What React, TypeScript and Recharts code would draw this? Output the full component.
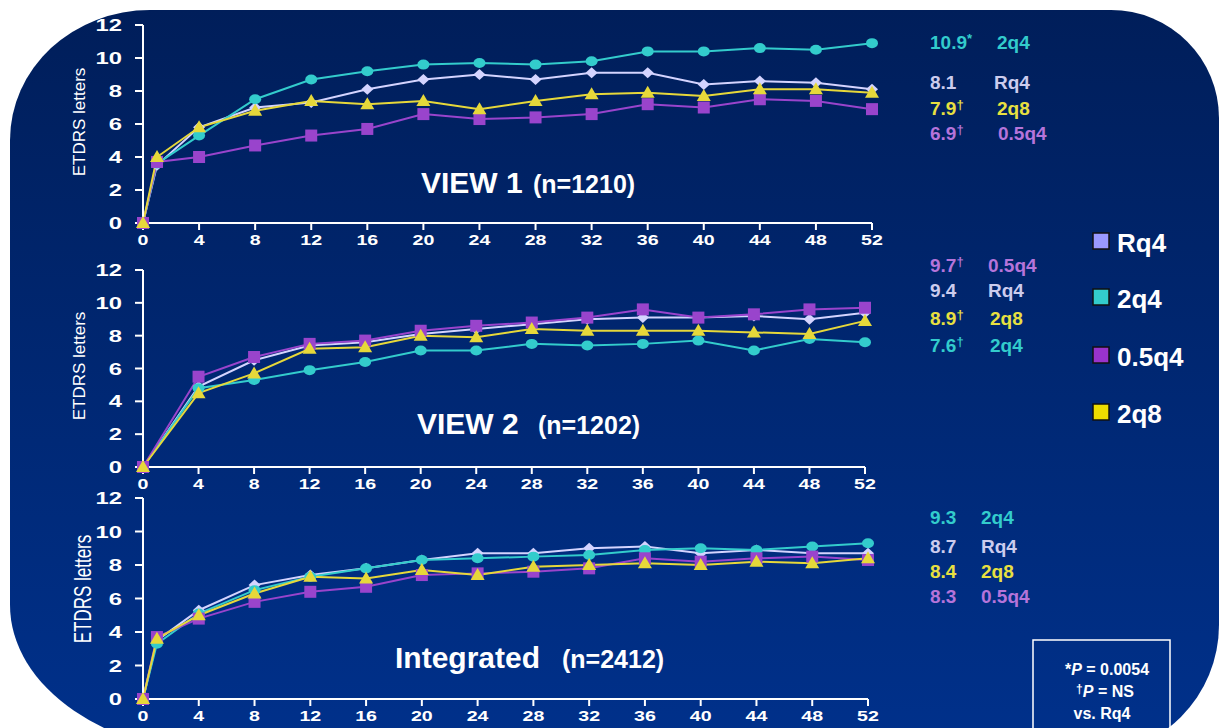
import React from 'react'
import { LineChart, Line, XAxis, YAxis } from 'recharts'

// weeks on the x axis
const WEEKS_A = [0, 1, 4, 8, 12, 16, 20, 24, 28, 32, 36, 40, 44, 48, 52]
const WEEKS_B = [0, 4, 8, 12, 16, 20, 24, 28, 32, 36, 40, 44, 48, 52]
const X_TICKS = [0, 4, 8, 12, 16, 20, 24, 28, 32, 36, 40, 44, 48, 52]
const Y_TICKS = [0, 2, 4, 6, 8, 10, 12]

// VIEW 1 (n=1210)
const V1_RQ4 = [0, 3.5, 5.8, 7.0, 7.3, 8.1, 8.7, 9.0, 8.7, 9.1, 9.1, 8.4, 8.6, 8.5, 8.1]
const V1_2Q4 = [0, 3.6, 5.3, 7.5, 8.7, 9.2, 9.6, 9.7, 9.6, 9.8, 10.4, 10.4, 10.6, 10.5, 10.9]
const V1_05Q4 = [0, 3.7, 4.0, 4.7, 5.3, 5.7, 6.6, 6.3, 6.4, 6.6, 7.2, 7.0, 7.5, 7.4, 6.9]
const V1_2Q8 = [0, 4.0, 5.8, 6.8, 7.4, 7.2, 7.4, 6.9, 7.4, 7.8, 7.9, 7.7, 8.1, 8.1, 7.9]

// VIEW 2 (n=1202)
const V2_RQ4 = [0, 4.9, 6.5, 7.4, 7.6, 8.1, 8.4, 8.7, 9.0, 9.1, 9.1, 9.2, 9.0, 9.4]
const V2_2Q4 = [0, 4.8, 5.3, 5.9, 6.4, 7.1, 7.1, 7.5, 7.4, 7.5, 7.7, 7.1, 7.8, 7.6]
const V2_05Q4 = [0, 5.5, 6.7, 7.5, 7.7, 8.3, 8.6, 8.8, 9.1, 9.6, 9.1, 9.3, 9.6, 9.7]
const V2_2Q8 = [0, 4.5, 5.7, 7.2, 7.3, 8.0, 7.9, 8.4, 8.3, 8.3, 8.3, 8.2, 8.1, 8.9]

// Integrated (n=2412)
const IN_RQ4 = [0, 3.5, 5.3, 6.8, 7.4, 7.8, 8.3, 8.7, 8.7, 9.0, 9.1, 8.7, 8.9, 8.7, 8.7]
const IN_2Q4 = [0, 3.3, 5.1, 6.5, 7.3, 7.8, 8.3, 8.4, 8.5, 8.6, 8.9, 9.0, 8.9, 9.1, 9.3]
const IN_05Q4 = [0, 3.7, 4.8, 5.8, 6.4, 6.7, 7.4, 7.5, 7.6, 7.8, 8.4, 8.2, 8.4, 8.5, 8.3]
const IN_2Q8 = [0, 3.6, 5.0, 6.3, 7.3, 7.2, 7.7, 7.4, 7.9, 8.0, 8.1, 8.0, 8.2, 8.1, 8.4]

const C_RQ4 = '#D4D4FF'
const C_2Q4 = '#33CCCC'
const C_05Q4 = '#9944CC'
const C_2Q8 = '#E6D83A'

const FONT = 'Arial, "Liberation Sans", sans-serif'

const build = (weeks: number[], rq4: number[], q2q4: number[], q05: number[], q2q8: number[]) =>
  weeks.map((w, i) => ({ week: w, rq4: rq4[i], q2q4: q2q4[i], q05: q05[i], q2q8: q2q8[i] }))

const view1 = build(WEEKS_A, V1_RQ4, V1_2Q4, V1_05Q4, V1_2Q8)
const view2 = build(WEEKS_B, V2_RQ4, V2_2Q4, V2_05Q4, V2_2Q8)
const integrated = build(WEEKS_A, IN_RQ4, IN_2Q4, IN_05Q4, IN_2Q8)

const Diamond = (p: any) => (
  <polygon
    key={`d-${p.index}`}
    points={`${p.cx},${p.cy - 5.5} ${p.cx + 6},${p.cy} ${p.cx},${p.cy + 5.5} ${p.cx - 6},${p.cy}`}
    fill={C_RQ4}
  />
)
const Circle = (p: any) => <ellipse key={`c-${p.index}`} cx={p.cx} cy={p.cy} rx={6} ry={5} fill={C_2Q4} />
const Square = (p: any) => <rect key={`s-${p.index}`} x={p.cx - 6} y={p.cy - 6} width={12} height={12} fill={C_05Q4} />
const Triangle = (p: any) => (
  <polygon
    key={`t-${p.index}`}
    points={`${p.cx},${p.cy - 7} ${p.cx + 7},${p.cy + 5} ${p.cx - 7},${p.cy + 5}`}
    fill={C_2Q8}
  />
)

const YTick = ({ x, y, payload }: any) => (
  <text
    transform={`translate(${x},${y}) scale(1.4,1)`}
    textAnchor="end"
    dy="0.36em"
    fill="#fff"
    fontWeight="bold"
    fontSize={17}
    fontFamily={FONT}
  >
    {payload.value}
  </text>
)

const XTick = ({ x, y, payload }: any) => (
  <text
    transform={`translate(${x},${y}) scale(1.4,1)`}
    textAnchor="middle"
    dy="0.71em"
    fill="#fff"
    fontWeight="bold"
    fontSize={14}
    fontFamily={FONT}
  >
    {payload.value}
  </text>
)

interface PanelProps {
  data: any[]
  top: number
  height: number
  margin: { top: number; right: number; bottom: number; left: number }
  xHeight: number
}

function Panel({ data, top, height, margin, xHeight }: PanelProps) {
  return (
    <div style={{ position: 'absolute', left: 0, top }}>
      <LineChart width={900} height={height} data={data} margin={margin}>
        <XAxis
          dataKey="week"
          type="number"
          domain={[0, 52]}
          ticks={X_TICKS}
          height={xHeight}
          interval={0}
          tick={<XTick />}
          tickSize={7}
          tickMargin={5}
          axisLine={{ stroke: '#fff', strokeWidth: 2 }}
          tickLine={{ stroke: '#fff', strokeWidth: 2 }}
        />
        <YAxis
          type="number"
          domain={[0, 12]}
          ticks={Y_TICKS}
          width={60}
          interval={0}
          tick={<YTick />}
          tickSize={8}
          tickMargin={13}
          axisLine={{ stroke: '#fff', strokeWidth: 2 }}
          tickLine={{ stroke: '#fff', strokeWidth: 2 }}
        />
        <Line dataKey="rq4" stroke={C_RQ4} strokeWidth={2} dot={Diamond} activeDot={false} isAnimationActive={false} />
        <Line dataKey="q2q4" stroke={C_2Q4} strokeWidth={2} dot={Circle} activeDot={false} isAnimationActive={false} />
        <Line dataKey="q05" stroke={C_05Q4} strokeWidth={2} dot={Square} activeDot={false} isAnimationActive={false} />
        <Line dataKey="q2q8" stroke={C_2Q8} strokeWidth={2} dot={Triangle} activeDot={false} isAnimationActive={false} />
      </LineChart>
    </div>
  )
}

const T_CYAN = '#33CCCC'
const T_LAV = '#CCCCEE'
const T_YEL = '#E8E040'
const T_PUR = '#B574DA'

// n: value, m: footnote mark, l: group label
const NOTE_ROWS = [
  { n: '10.9', m: '*', l: '2q4', c: T_CYAN, y: 49, lx: 997 },
  { n: '8.1', m: '', l: 'Rq4', c: T_LAV, y: 89, lx: 994 },
  { n: '7.9', m: '†', l: '2q8', c: T_YEL, y: 115, lx: 997 },
  { n: '6.9', m: '†', l: '0.5q4', c: T_PUR, y: 140, lx: 998 },
  { n: '9.7', m: '†', l: '0.5q4', c: T_PUR, y: 272, lx: 988 },
  { n: '9.4', m: '', l: 'Rq4', c: T_LAV, y: 297, lx: 988 },
  { n: '8.9', m: '†', l: '2q8', c: T_YEL, y: 325, lx: 990 },
  { n: '7.6', m: '†', l: '2q4', c: T_CYAN, y: 352, lx: 990 },
  { n: '9.3', m: '', l: '2q4', c: T_CYAN, y: 524, lx: 981 },
  { n: '8.7', m: '', l: 'Rq4', c: T_LAV, y: 553, lx: 981 },
  { n: '8.4', m: '', l: '2q8', c: T_YEL, y: 578, lx: 981 },
  { n: '8.3', m: '', l: '0.5q4', c: T_PUR, y: 603, lx: 981 },
]

const LEGEND = [
  { l: 'Rq4', c: '#9999FF', y: 233 },
  { l: '2q4', c: '#33CCCC', y: 289 },
  { l: '0.5q4', c: '#9933CC', y: 347 },
  { l: '2q8', c: '#EEDD00', y: 404 },
]

export default function App() {
  return (
    <div
      style={{
        position: 'absolute',
        left: 0,
        top: 0,
        width: 1226,
        height: 728,
        overflow: 'hidden',
        background: '#fff',
        fontFamily: FONT,
      }}
    >
      <div
        style={{
          position: 'absolute',
          left: 10,
          top: 10,
          width: 1209,
          height: 745,
          background: 'linear-gradient(#001E5A, #00318C)',
          borderRadius: '140px 108px 130px 220px / 130px 108px 130px 150px',
        }}
      />
      <Panel data={view1} top={0} height={260} margin={{ top: 25, right: 28, bottom: 7, left: 83 }} xHeight={30} />
      <Panel data={view2} top={240} height={270} margin={{ top: 30, right: 35, bottom: 13, left: 83 }} xHeight={30} />
      <Panel data={integrated} top={470} height={258} margin={{ top: 28, right: 32, bottom: 4, left: 83 }} xHeight={25} />

      <svg width={1226} height={728} style={{ position: 'absolute', left: 0, top: 0, pointerEvents: 'none' }}>
        <g fontFamily={FONT} fill="#fff">
          <text transform="translate(79,122) rotate(-90)" textAnchor="middle" dy="0.35em" fontSize={17}>
            ETDRS letters
          </text>
          <text transform="translate(79,366) rotate(-90)" textAnchor="middle" dy="0.35em" fontSize={17}>
            ETDRS letters
          </text>
          <text transform="translate(82,589) rotate(-90) scale(1,1.45)" textAnchor="middle" dy="0.35em" fontSize={17}>
            ETDRS letters
          </text>

          <text x={421} y={193} fontSize={30} fontWeight="bold">VIEW 1</text>
          <text x={533} y={193} fontSize={25} fontWeight="bold">(n=1210)</text>
          <text x={417} y={434} fontSize={30} fontWeight="bold">VIEW 2</text>
          <text x={538} y={434} fontSize={25} fontWeight="bold">(n=1202)</text>
          <text x={395} y={668} fontSize={30} fontWeight="bold">Integrated</text>
          <text x={562} y={668} fontSize={25} fontWeight="bold">(n=2412)</text>

          {NOTE_ROWS.map((r, i) => (
            <g key={i} fontSize={19} fontWeight="bold" fill={r.c}>
              <text x={930} y={r.y}>
                {r.n}
                {r.m && (
                  <tspan fontSize={13} dy={-6}>
                    {r.m}
                  </tspan>
                )}
              </text>
              <text x={r.lx} y={r.y}>{r.l}</text>
            </g>
          ))}

          {LEGEND.map((r, i) => (
            <g key={i}>
              <rect x={1093} y={r.y} width={16} height={16} fill={r.c} stroke="#111" strokeWidth={1.5} />
              <text x={1117} y={r.y + 19} fontSize={26} fontWeight="bold" fill="#fff">
                {r.l}
              </text>
            </g>
          ))}

          <rect x={1033} y={640} width={137} height={100} fill="none" stroke="#fff" strokeWidth={1.5} />
          <g fontSize={16} fontWeight="bold" textAnchor="middle" fill="#fff">
            <text x={1107} y={675}>
              *<tspan fontStyle="italic">P</tspan> = 0.0054
            </text>
            <text x={1105} y={697}>
              <tspan fontSize={12} dy={-4}>†</tspan>
              <tspan fontStyle="italic" dy={4}>P</tspan> = NS
            </text>
            <text x={1102} y={719}>vs. Rq4</text>
          </g>
        </g>
      </svg>
    </div>
  )
}
